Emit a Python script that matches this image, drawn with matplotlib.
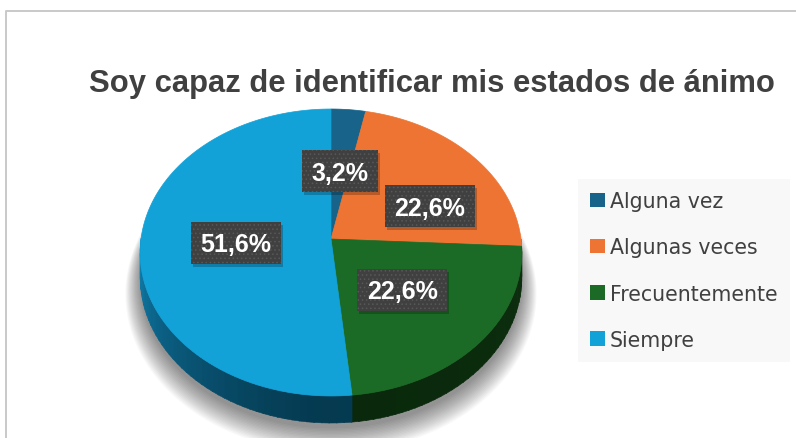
import numpy as np
import matplotlib
matplotlib.use("Agg")
import matplotlib.pyplot as plt
from matplotlib.patches import Patch, Rectangle
from matplotlib.colors import to_rgb

title = "Soy capaz de identificar mis estados de ánimo"
categories = ["Alguna vez", "Algunas veces", "Frecuentemente", "Siempre"]
values = [3.2, 22.6, 22.6, 51.6]
labels = ["3,2%", "22,6%", "22,6%", "51,6%"]
top_colors = ["#17638a", "#ed7433", "#1b6b26", "#12a2d8"]
side_dark = ["#0a3a52", "#8a3e12", "#0a290c", "#053a50"]
side_light = ["#0f6a92", "#a34a18", "#0d2e0f", "#1080b0"]

# layout of the fake 3d pie, in pixels
W, H = 796, 439
cx, cy = 331, 240
KX, KY = 190, 142.2
A = 0.094          # perspective strength
DROP = 24.5        # thickness of the pie
label_r = [0.5, 0.58, 0.5, 0.5]
label_shift = [0, 14, 0, 0]
BOX_H, BOX_PADX = 42, 9.5


def proj(theta, r=1.0, drop=0.0):
    th = np.radians(theta)
    u = r * np.sin(th)
    v = -r * np.cos(th)
    w = 1 - A * v
    return cx + KX * u / w, cy + (KY * v + drop) / w


fig = plt.figure(figsize=(W / 100, H / 100), dpi=100)
ax = fig.add_axes([0, 0, 1, 1])
ax.set_xlim(0, W)
ax.set_ylim(H, 0)
ax.axis("off")

# frame of the chart area
ax.plot([6, 6, W], [H, 12, 12], color="#c9c9c9", lw=1.4, zorder=1)

# soft shadow under the pie
th_all = np.linspace(0, 360, 361)
for k in range(18):
    sx, sy = proj(th_all, r=1.0 + 0.0045 * k, drop=DROP + 5 + 0.55 * k)
    ax.fill(sx, sy, color="black", alpha=0.028, lw=0, zorder=2)

fracs = np.array(values) / sum(values)
ends = np.cumsum(fracs) * 360
starts = ends - fracs * 360

# side wall, only the front half is visible
for i in range(len(values)):
    a0, a1 = max(starts[i], 90), min(ends[i], 270)
    if a1 <= a0:
        continue
    steps = max(int((a1 - a0) / 2), 1)
    edges = np.linspace(a0, a1, steps + 1)
    c_dark = np.array(to_rgb(side_dark[i]))
    c_light = np.array(to_rgb(side_light[i]))
    for j in range(steps):
        e0, e1 = edges[j], edges[j + 1]
        mid = (e0 + e1) / 2
        t = abs(mid - 180) / 90.0
        col = c_dark + (c_light - c_dark) * t ** 1.4
        th = np.linspace(e0, e1 + 0.3, 4)
        x1, y1 = proj(th)
        x2, y2 = proj(th[::-1], drop=DROP)
        ax.fill(np.r_[x1, x2], np.r_[y1, y2], color=col, lw=0.4, ec=col, zorder=3)

# top faces
for i in range(len(values)):
    th = np.linspace(starts[i], ends[i], 200)
    x, y = proj(th)
    ax.fill(np.r_[cx, x], np.r_[cy, y], color=top_colors[i], lw=0.5,
            ec=top_colors[i], zorder=4)

# data labels (boxes are added after measuring the text)
plt.rcParams["hatch.linewidth"] = 0.6
label_texts = []
for i in range(len(values)):
    mid = (starts[i] + ends[i]) / 2 + label_shift[i]
    lx, ly = proj(mid, r=label_r[i])
    t = ax.text(lx, ly + 8.5, labels[i], ha="center", va="baseline", fontsize=18,
                fontweight="bold", family="Liberation Sans", color="white", zorder=7)
    label_texts.append((t, lx, ly))

ax.text(432, 84, title, ha="center", va="center", fontsize=22.3,
        fontweight="bold", family="Liberation Sans", color="#404040")

handles = [Patch(fc=c, ec="none") for c in top_colors]
leg = ax.legend(handles, categories, loc="upper left",
                bbox_to_anchor=(578 / W, 1 - 180 / H), borderaxespad=0,
                frameon=True, fancybox=False, framealpha=1, facecolor="#f8f8f8",
                edgecolor="none", prop={"family": "DejaVu Sans", "size": 14.8},
                handlelength=0.7, handleheight=0.7, handletextpad=0.25,
                labelspacing=1.27, borderpad=0.6)
for t in leg.get_texts():
    t.set_color("#404040")

# label boxes with a small drop shadow
fig.canvas.draw()
for t, lx, ly in label_texts:
    tw = t.get_window_extent().width
    bw = tw + 2 * BOX_PADX
    ax.add_patch(Rectangle((lx - bw / 2 + 2, ly - BOX_H / 2 + 3), bw, BOX_H,
                           fc="black", alpha=0.22, lw=0, zorder=5))
    ax.add_patch(Rectangle((lx - bw / 2, ly - BOX_H / 2), bw, BOX_H,
                           fc="#404040", ec="#585858", lw=0, hatch="....", zorder=6))

fig.savefig("out.png", dpi=100)
